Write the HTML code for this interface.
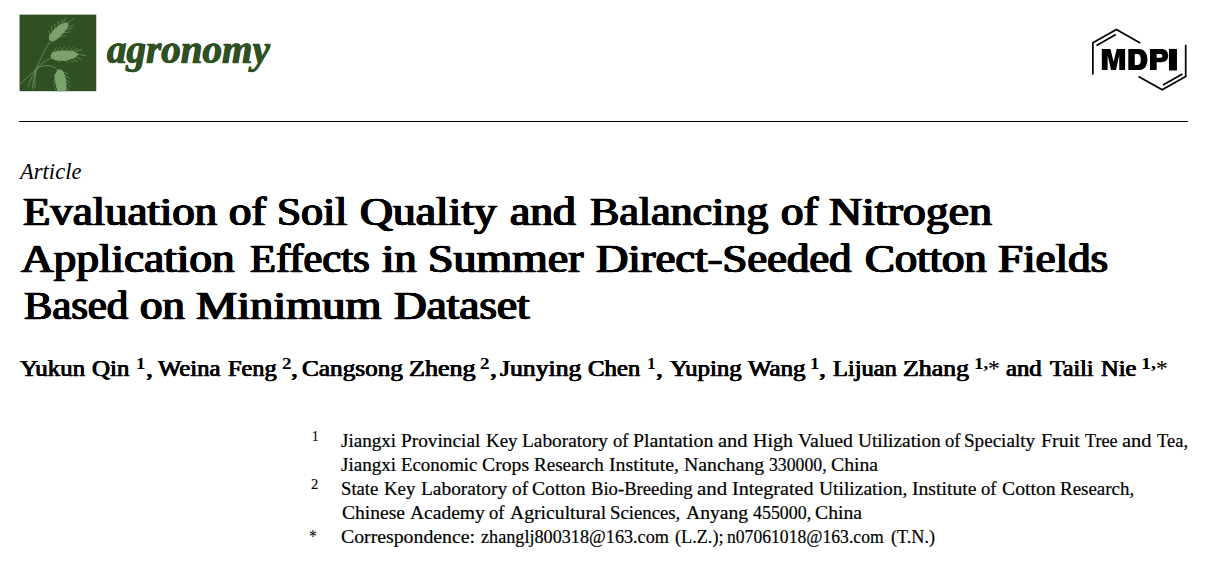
<!DOCTYPE html>
<html><head><meta charset="utf-8"><title>Agronomy Article</title>
<style>
html,body{margin:0;padding:0;background:#fff;}
body{width:1211px;height:562px;position:relative;overflow:hidden;font-family:"Liberation Serif",serif;color:#000;}
.l{position:absolute;white-space:nowrap;transform-origin:0 0;line-height:1;}
#rule{position:absolute;left:19px;top:120.6px;width:1169px;height:1.3px;background:#000;}
svg{position:absolute;overflow:visible;}
</style></head><body>
<svg id="sq" style="left:15px;top:10px;overflow:hidden" width="90" height="90" viewBox="0 0 90 90">
<defs><clipPath id="cq"><rect x="4.55" y="4.6" width="76.7" height="76.6"/></clipPath></defs>
<rect x="4.55" y="4.6" width="76.7" height="76.6" fill="#2f5023"/>
<g clip-path="url(#cq)"><g transform="scale(0.15302)" fill="#7ba36e" stroke="#7ba36e" stroke-linecap="round" stroke-linejoin="round">
<g stroke-width="4.4" fill="none">
<path d="M232 200 C200 250 165 320 142 378 C128 420 118 470 112 520"/>
<path d="M238 312 C200 330 165 355 140 385 C105 420 70 450 40 478"/>
<path d="M280 394 C255 362 205 355 160 372 C130 390 100 450 86 500"/>
<path d="M140 385 C130 420 128 470 130 510"/>
</g>
<g stroke-width="7">
<path d="M224 190 L227 168 L256 131 L295 99 L334 84 L347 92 L337 119 L310 153 L276 187 L246 204 Z"/>
<path d="M235 300 L247 278 L303 268 L375 270 L412 289 L387 311 L331 329 L269 326 L242 316 Z"/>
<path d="M282 391 L307 395 L324 429 L332 473 L333 535 L282 535 L267 473 L260 429 Z"/>
</g>
<g stroke-width="4.6" fill="none" opacity="0.85">
<path d="M227 168 L221 136 M244 148 L239 107 M261 129 L261 90 M281 112 L283 75 M300 95 L310 63 M315 85 L335 48 M334 90 L383 56 M339 116 L383 99 M330 129 L373 119 M315 148 L359 143 M295 173 L327 167"/>
<path d="M253 275 L269 247 M275 270 L295 242 M300 267 L325 239 M328 267 L353 242 M353 267 L381 245 M375 270 L409 253 M392 275 L437 258 M409 289 L462 298 M398 306 L434 325 M375 317 L409 337 M353 323 L384 342 M325 328 L348 342 M297 328 L286 342"/>
<path d="M308 404 L345 415 M322 426 L356 445 M328 451 L361 476 M331 473 L364 504 M331 501 L353 523 M264 445 L252 468 M267 468 L254 493 M272 496 L263 521"/>
</g>
</g></g>
</svg>

<svg id="mdpi" style="left:1085px;top:20px" width="110" height="80" viewBox="1085 20 110 80">
<g fill="none" stroke="#000" stroke-width="1.7" stroke-linecap="butt" stroke-linejoin="miter">
<path d="M1092.9 74.4 V42.8 L1116.4 29.5 L1140.2 43"/>
<path d="M1096.5 45.6 L1115.8 34.6"/>
<path d="M1185.7 44.7 V76.6 L1162.2 89.8 L1138.5 76.4"/>
<path d="M1163 85 L1182.4 74"/>
</g>
<g transform="translate(1095,40) scale(0.074316)" fill="#000" fill-rule="evenodd">
<path d="M92 405 V120 H208 L250 292 L292 120 H405 V405 H326 V205 L282 405 H216 L170 205 V405 Z"/>
<path d="M448 120 H590 C665 120 705 180 705 262 C705 345 665 405 590 405 H448 Z M535 190 V335 H575 C602 335 616 305 616 262 C616 220 602 190 575 190 Z"/>
<path d="M740 120 H890 C950 120 985 155 985 210 C985 265 950 300 890 300 H830 V405 H740 Z M830 188 V240 H875 C896 240 906 230 906 214 C906 198 896 188 875 188 Z"/>
<path d="M995 120 H1103 V410 H995 Z"/>
</g>
</svg>

<div id="rule"></div>
<div class="l" style="left:22.60px;top:191.71px;font-size:40.4px;transform:scaleX(1.1094);-webkit-text-stroke:0.4px #000;text-shadow:0.8px 0 0 #000,-0.8px 0 0 #000,0.4px 0 0 #000,-0.4px 0 0 #000;">Evaluation</div>
<div class="l" style="left:228.50px;top:191.71px;font-size:40.4px;transform:scaleX(1.1053);-webkit-text-stroke:0.4px #000;text-shadow:0.8px 0 0 #000,-0.8px 0 0 #000,0.4px 0 0 #000,-0.4px 0 0 #000;">of</div>
<div class="l" style="left:276.52px;top:191.71px;font-size:40.4px;transform:scaleX(1.0789);-webkit-text-stroke:0.4px #000;text-shadow:0.8px 0 0 #000,-0.8px 0 0 #000,0.4px 0 0 #000,-0.4px 0 0 #000;">Soil</div>
<div class="l" style="left:360.40px;top:191.71px;font-size:40.4px;transform:scaleX(1.1289);-webkit-text-stroke:0.4px #000;text-shadow:0.8px 0 0 #000,-0.8px 0 0 #000,0.4px 0 0 #000,-0.4px 0 0 #000;">Quality</div>
<div class="l" style="left:510.40px;top:191.71px;font-size:40.4px;transform:scaleX(1.1282);-webkit-text-stroke:0.4px #000;text-shadow:0.8px 0 0 #000,-0.8px 0 0 #000,0.4px 0 0 #000,-0.4px 0 0 #000;">and</div>
<div class="l" style="left:590.00px;top:191.71px;font-size:40.4px;transform:scaleX(1.0890);-webkit-text-stroke:0.4px #000;text-shadow:0.8px 0 0 #000,-0.8px 0 0 #000,0.4px 0 0 #000,-0.4px 0 0 #000;">Balancing</div>
<div class="l" style="left:781.00px;top:191.71px;font-size:40.4px;transform:scaleX(1.1081);-webkit-text-stroke:0.4px #000;text-shadow:0.8px 0 0 #000,-0.8px 0 0 #000,0.4px 0 0 #000,-0.4px 0 0 #000;">of</div>
<div class="l" style="left:829.10px;top:191.71px;font-size:40.4px;transform:scaleX(1.1352);-webkit-text-stroke:0.4px #000;text-shadow:0.8px 0 0 #000,-0.8px 0 0 #000,0.4px 0 0 #000,-0.4px 0 0 #000;">Nitrogen</div>
<div class="l" style="left:20.72px;top:238.60px;font-size:40.4px;transform:scaleX(1.1200);-webkit-text-stroke:0.4px #000;text-shadow:0.8px 0 0 #000,-0.8px 0 0 #000,0.4px 0 0 #000,-0.4px 0 0 #000;">Application</div>
<div class="l" style="left:249.80px;top:238.60px;font-size:40.4px;transform:scaleX(1.0525);-webkit-text-stroke:0.4px #000;text-shadow:0.8px 0 0 #000,-0.8px 0 0 #000,0.4px 0 0 #000,-0.4px 0 0 #000;">Effects</div>
<div class="l" style="left:382.20px;top:238.60px;font-size:40.4px;transform:scaleX(1.1017);-webkit-text-stroke:0.4px #000;text-shadow:0.8px 0 0 #000,-0.8px 0 0 #000,0.4px 0 0 #000,-0.4px 0 0 #000;">in</div>
<div class="l" style="left:427.66px;top:238.60px;font-size:40.4px;transform:scaleX(1.1359);-webkit-text-stroke:0.4px #000;text-shadow:0.8px 0 0 #000,-0.8px 0 0 #000,0.4px 0 0 #000,-0.4px 0 0 #000;">Summer</div>
<div class="l" style="left:595.70px;top:238.60px;font-size:40.4px;transform:scaleX(1.1061);-webkit-text-stroke:0.4px #000;text-shadow:0.8px 0 0 #000,-0.8px 0 0 #000,0.4px 0 0 #000,-0.4px 0 0 #000;">Direct-Seeded</div>
<div class="l" style="left:865.00px;top:238.60px;font-size:40.4px;transform:scaleX(1.1068);-webkit-text-stroke:0.4px #000;text-shadow:0.8px 0 0 #000,-0.8px 0 0 #000,0.4px 0 0 #000,-0.4px 0 0 #000;">Cotton</div>
<div class="l" style="left:998.40px;top:238.60px;font-size:40.4px;transform:scaleX(1.1148);-webkit-text-stroke:0.4px #000;text-shadow:0.8px 0 0 #000,-0.8px 0 0 #000,0.4px 0 0 #000,-0.4px 0 0 #000;">Fields</div>
<div class="l" style="left:23.60px;top:285.51px;font-size:40.4px;transform:scaleX(1.0551);-webkit-text-stroke:0.4px #000;text-shadow:0.8px 0 0 #000,-0.8px 0 0 #000,0.4px 0 0 #000,-0.4px 0 0 #000;">Based</div>
<div class="l" style="left:140.40px;top:285.51px;font-size:40.4px;transform:scaleX(1.1118);-webkit-text-stroke:0.4px #000;text-shadow:0.8px 0 0 #000,-0.8px 0 0 #000,0.4px 0 0 #000,-0.4px 0 0 #000;">on</div>
<div class="l" style="left:196.30px;top:285.51px;font-size:40.4px;transform:scaleX(1.1482);-webkit-text-stroke:0.4px #000;text-shadow:0.8px 0 0 #000,-0.8px 0 0 #000,0.4px 0 0 #000,-0.4px 0 0 #000;">Minimum</div>
<div class="l" style="left:393.90px;top:285.51px;font-size:40.4px;transform:scaleX(1.1199);-webkit-text-stroke:0.4px #000;text-shadow:0.8px 0 0 #000,-0.8px 0 0 #000,0.4px 0 0 #000,-0.4px 0 0 #000;">Dataset</div>
<div class="l" style="left:19.67px;top:357.70px;font-size:22.8px;transform:scaleX(1.0935);-webkit-text-stroke:0.25px #000;text-shadow:0.4px 0 0 #000,-0.4px 0 0 #000;">Yukun</div>
<div class="l" style="left:92.37px;top:357.70px;font-size:22.8px;transform:scaleX(1.0935);-webkit-text-stroke:0.25px #000;text-shadow:0.4px 0 0 #000,-0.4px 0 0 #000;">Qin</div>
<div class="l" style="left:136.47px;top:355.71px;font-size:16.5px;transform:scaleX(1.1286);font-weight:bold;">1</div>
<div class="l" style="left:145.63px;top:357.70px;font-size:22.8px;transform:scaleX(1.2066);-webkit-text-stroke:0.25px #000;text-shadow:0.4px 0 0 #000,-0.4px 0 0 #000;">,</div>
<div class="l" style="left:157.77px;top:357.70px;font-size:22.8px;transform:scaleX(1.0838);-webkit-text-stroke:0.25px #000;text-shadow:0.4px 0 0 #000,-0.4px 0 0 #000;">Weina</div>
<div class="l" style="left:227.86px;top:357.70px;font-size:22.8px;transform:scaleX(1.0661);-webkit-text-stroke:0.25px #000;text-shadow:0.4px 0 0 #000,-0.4px 0 0 #000;">Feng</div>
<div class="l" style="left:281.80px;top:355.71px;font-size:16.5px;transform:scaleX(1.1625);font-weight:bold;">2</div>
<div class="l" style="left:291.23px;top:357.70px;font-size:22.8px;transform:scaleX(1.2066);-webkit-text-stroke:0.25px #000;text-shadow:0.4px 0 0 #000,-0.4px 0 0 #000;">,</div>
<div class="l" style="left:302.38px;top:357.70px;font-size:22.8px;transform:scaleX(1.1074);-webkit-text-stroke:0.25px #000;text-shadow:0.4px 0 0 #000,-0.4px 0 0 #000;">Cangsong</div>
<div class="l" style="left:408.56px;top:357.70px;font-size:22.8px;transform:scaleX(1.1435);-webkit-text-stroke:0.25px #000;text-shadow:0.4px 0 0 #000,-0.4px 0 0 #000;">Zheng</div>
<div class="l" style="left:480.20px;top:355.71px;font-size:16.5px;transform:scaleX(1.1625);font-weight:bold;">2</div>
<div class="l" style="left:489.54px;top:357.70px;font-size:22.8px;transform:scaleX(1.2231);-webkit-text-stroke:0.25px #000;text-shadow:0.4px 0 0 #000,-0.4px 0 0 #000;">,</div>
<div class="l" style="left:500.39px;top:357.70px;font-size:22.8px;transform:scaleX(1.1270);-webkit-text-stroke:0.25px #000;text-shadow:0.4px 0 0 #000,-0.4px 0 0 #000;">Junying</div>
<div class="l" style="left:588.37px;top:357.70px;font-size:22.8px;transform:scaleX(1.0870);-webkit-text-stroke:0.25px #000;text-shadow:0.4px 0 0 #000,-0.4px 0 0 #000;">Chen</div>
<div class="l" style="left:647.34px;top:355.71px;font-size:16.5px;transform:scaleX(1.0571);font-weight:bold;">1</div>
<div class="l" style="left:656.13px;top:357.70px;font-size:22.8px;transform:scaleX(1.2066);-webkit-text-stroke:0.25px #000;text-shadow:0.4px 0 0 #000,-0.4px 0 0 #000;">,</div>
<div class="l" style="left:670.27px;top:357.70px;font-size:22.8px;transform:scaleX(1.0885);-webkit-text-stroke:0.25px #000;text-shadow:0.4px 0 0 #000,-0.4px 0 0 #000;">Yuping</div>
<div class="l" style="left:748.17px;top:357.70px;font-size:22.8px;transform:scaleX(1.0928);-webkit-text-stroke:0.25px #000;text-shadow:0.4px 0 0 #000,-0.4px 0 0 #000;">Wang</div>
<div class="l" style="left:809.76px;top:355.71px;font-size:16.5px;transform:scaleX(1.1429);font-weight:bold;">1</div>
<div class="l" style="left:819.33px;top:357.70px;font-size:22.8px;transform:scaleX(1.2066);-webkit-text-stroke:0.25px #000;text-shadow:0.4px 0 0 #000,-0.4px 0 0 #000;">,</div>
<div class="l" style="left:833.46px;top:357.70px;font-size:22.8px;transform:scaleX(1.0726);-webkit-text-stroke:0.25px #000;text-shadow:0.4px 0 0 #000,-0.4px 0 0 #000;">Lijuan</div>
<div class="l" style="left:903.46px;top:357.70px;font-size:22.8px;transform:scaleX(1.1332);-webkit-text-stroke:0.25px #000;text-shadow:0.4px 0 0 #000,-0.4px 0 0 #000;">Zhang</div>
<div class="l" style="left:973.94px;top:355.71px;font-size:16.5px;transform:scaleX(1.1644);font-weight:bold;">1,</div>
<div class="l" style="left:988.32px;top:357.70px;font-size:22.8px;transform:scaleX(1.0297);-webkit-text-stroke:0.1px #000;">*</div>
<div class="l" style="left:1006.17px;top:357.70px;font-size:22.8px;transform:scaleX(1.0820);-webkit-text-stroke:0.25px #000;text-shadow:0.4px 0 0 #000,-0.4px 0 0 #000;">and</div>
<div class="l" style="left:1050.15px;top:357.70px;font-size:22.8px;transform:scaleX(1.0482);-webkit-text-stroke:0.25px #000;text-shadow:0.4px 0 0 #000,-0.4px 0 0 #000;">Taili</div>
<div class="l" style="left:1100.96px;top:357.70px;font-size:22.8px;transform:scaleX(1.0754);-webkit-text-stroke:0.25px #000;text-shadow:0.4px 0 0 #000,-0.4px 0 0 #000;">Nie</div>
<div class="l" style="left:1141.48px;top:355.71px;font-size:16.5px;transform:scaleX(1.2178);font-weight:bold;">1,</div>
<div class="l" style="left:1156.33px;top:357.70px;font-size:22.8px;transform:scaleX(1.0198);-webkit-text-stroke:0.1px #000;">*</div>
<div class="l" style="left:20.06px;top:159.91px;font-size:23px;transform:scaleX(0.9817);font-style:italic;">Article</div>
<div class="l" style="left:106.62px;top:28.71px;font-size:41px;transform:scaleX(0.9529);-webkit-text-stroke:0.3px #2f5023;text-shadow:0.5px 0 0 #2f5023,-0.5px 0 0 #2f5023;font-weight:bold;font-style:italic;color:#2f5023;">agronomy</div>
<div class="l" style="left:341.40px;top:432.20px;font-size:18.5px;transform:scaleX(1.0316);-webkit-text-stroke:0.2px #000;">Jiangxi</div>
<div class="l" style="left:401.30px;top:432.20px;font-size:18.5px;transform:scaleX(1.0438);-webkit-text-stroke:0.2px #000;">Provincial</div>
<div class="l" style="left:485.50px;top:432.20px;font-size:18.5px;transform:scaleX(1.0241);-webkit-text-stroke:0.2px #000;">Key</div>
<div class="l" style="left:521.80px;top:432.20px;font-size:18.5px;transform:scaleX(1.0448);-webkit-text-stroke:0.2px #000;">Laboratory</div>
<div class="l" style="left:612.50px;top:432.20px;font-size:18.5px;transform:scaleX(1.0032);-webkit-text-stroke:0.2px #000;">of</div>
<div class="l" style="left:632.61px;top:432.20px;font-size:18.5px;transform:scaleX(1.0722);-webkit-text-stroke:0.2px #000;">Plantation</div>
<div class="l" style="left:718.01px;top:432.20px;font-size:18.5px;transform:scaleX(1.1073);-webkit-text-stroke:0.2px #000;">and</div>
<div class="l" style="left:752.71px;top:432.20px;font-size:18.5px;transform:scaleX(1.0811);-webkit-text-stroke:0.2px #000;">High</div>
<div class="l" style="left:797.71px;top:432.20px;font-size:18.5px;transform:scaleX(1.0697);-webkit-text-stroke:0.2px #000;">Valued</div>
<div class="l" style="left:857.60px;top:432.20px;font-size:18.5px;transform:scaleX(1.0460);-webkit-text-stroke:0.2px #000;">Utilization</div>
<div class="l" style="left:945.20px;top:432.20px;font-size:18.5px;transform:scaleX(1.0082);-webkit-text-stroke:0.2px #000;">of</div>
<div class="l" style="left:964.37px;top:432.20px;font-size:18.5px;transform:scaleX(1.0318);-webkit-text-stroke:0.2px #000;">Specialty</div>
<div class="l" style="left:1041.21px;top:432.20px;font-size:18.5px;transform:scaleX(1.0787);-webkit-text-stroke:0.2px #000;">Fruit</div>
<div class="l" style="left:1085.00px;top:432.20px;font-size:18.5px;transform:scaleX(0.9800);-webkit-text-stroke:0.2px #000;">Tree</div>
<div class="l" style="left:1122.11px;top:432.20px;font-size:18.5px;transform:scaleX(1.1042);-webkit-text-stroke:0.2px #000;">and</div>
<div class="l" style="left:1156.70px;top:432.20px;font-size:18.5px;transform:scaleX(0.9990);-webkit-text-stroke:0.2px #000;">Tea,</div>
<div class="l" style="left:341.40px;top:456.20px;font-size:18.5px;transform:scaleX(1.0316);-webkit-text-stroke:0.2px #000;">Jiangxi</div>
<div class="l" style="left:401.30px;top:456.20px;font-size:18.5px;transform:scaleX(1.0185);-webkit-text-stroke:0.2px #000;">Economic</div>
<div class="l" style="left:482.41px;top:456.20px;font-size:18.5px;transform:scaleX(1.0650);-webkit-text-stroke:0.2px #000;">Crops</div>
<div class="l" style="left:534.40px;top:456.20px;font-size:18.5px;transform:scaleX(1.0301);-webkit-text-stroke:0.2px #000;">Research</div>
<div class="l" style="left:609.01px;top:456.20px;font-size:18.5px;transform:scaleX(1.0718);-webkit-text-stroke:0.2px #000;">Institute,</div>
<div class="l" style="left:683.91px;top:456.20px;font-size:18.5px;transform:scaleX(1.0701);-webkit-text-stroke:0.2px #000;">Nanchang</div>
<div class="l" style="left:769.10px;top:456.20px;font-size:18.5px;transform:scaleX(0.9575);-webkit-text-stroke:0.2px #000;">330000,</div>
<div class="l" style="left:831.11px;top:456.20px;font-size:18.5px;transform:scaleX(1.0661);-webkit-text-stroke:0.2px #000;">China</div>
<div class="l" style="left:341.39px;top:480.20px;font-size:18.5px;transform:scaleX(1.0092);-webkit-text-stroke:0.2px #000;">State</div>
<div class="l" style="left:384.40px;top:480.20px;font-size:18.5px;transform:scaleX(1.0184);-webkit-text-stroke:0.2px #000;">Key</div>
<div class="l" style="left:420.50px;top:480.20px;font-size:18.5px;transform:scaleX(1.0483);-webkit-text-stroke:0.2px #000;">Laboratory</div>
<div class="l" style="left:511.50px;top:480.20px;font-size:18.5px;transform:scaleX(1.0431);-webkit-text-stroke:0.2px #000;">of</div>
<div class="l" style="left:532.41px;top:480.20px;font-size:18.5px;transform:scaleX(1.0619);-webkit-text-stroke:0.2px #000;">Cotton</div>
<div class="l" style="left:590.80px;top:480.20px;font-size:18.5px;transform:scaleX(1.0083);-webkit-text-stroke:0.2px #000;">Bio-Breeding</div>
<div class="l" style="left:697.01px;top:480.20px;font-size:18.5px;transform:scaleX(1.1297);-webkit-text-stroke:0.2px #000;">and</div>
<div class="l" style="left:732.41px;top:480.20px;font-size:18.5px;transform:scaleX(1.0866);-webkit-text-stroke:0.2px #000;">Integrated</div>
<div class="l" style="left:818.91px;top:480.20px;font-size:18.5px;transform:scaleX(1.0546);-webkit-text-stroke:0.2px #000;">Utilization,</div>
<div class="l" style="left:912.11px;top:480.20px;font-size:18.5px;transform:scaleX(1.0620);-webkit-text-stroke:0.2px #000;">Institute</div>
<div class="l" style="left:981.40px;top:480.20px;font-size:18.5px;transform:scaleX(1.0082);-webkit-text-stroke:0.2px #000;">of</div>
<div class="l" style="left:1001.61px;top:480.20px;font-size:18.5px;transform:scaleX(1.0656);-webkit-text-stroke:0.2px #000;">Cotton</div>
<div class="l" style="left:1060.20px;top:480.20px;font-size:18.5px;transform:scaleX(1.0237);-webkit-text-stroke:0.2px #000;">Research,</div>
<div class="l" style="left:341.81px;top:504.20px;font-size:18.5px;transform:scaleX(1.0572);-webkit-text-stroke:0.2px #000;">Chinese</div>
<div class="l" style="left:409.71px;top:504.20px;font-size:18.5px;transform:scaleX(1.0542);-webkit-text-stroke:0.2px #000;">Academy</div>
<div class="l" style="left:489.30px;top:504.20px;font-size:18.5px;transform:scaleX(1.0082);-webkit-text-stroke:0.2px #000;">of</div>
<div class="l" style="left:509.51px;top:504.20px;font-size:18.5px;transform:scaleX(1.0638);-webkit-text-stroke:0.2px #000;">Agricultural</div>
<div class="l" style="left:609.59px;top:504.20px;font-size:18.5px;transform:scaleX(1.0139);-webkit-text-stroke:0.2px #000;">Sciences,</div>
<div class="l" style="left:685.61px;top:504.20px;font-size:18.5px;transform:scaleX(1.0618);-webkit-text-stroke:0.2px #000;">Anyang</div>
<div class="l" style="left:752.70px;top:504.20px;font-size:18.5px;transform:scaleX(0.9683);-webkit-text-stroke:0.2px #000;">455000,</div>
<div class="l" style="left:815.41px;top:504.20px;font-size:18.5px;transform:scaleX(1.0638);-webkit-text-stroke:0.2px #000;">China</div>
<div class="l" style="left:341.11px;top:528.20px;font-size:18.5px;transform:scaleX(1.0691);-webkit-text-stroke:0.2px #000;">Correspondence:</div>
<div class="l" style="left:480.50px;top:528.20px;font-size:18.5px;transform:scaleX(0.9827);-webkit-text-stroke:0.2px #000;">zhanglj800318@163.com</div>
<div class="l" style="left:674.80px;top:528.20px;font-size:18.5px;transform:scaleX(0.9840);-webkit-text-stroke:0.2px #000;">(L.Z.);</div>
<div class="l" style="left:726.80px;top:528.20px;font-size:18.5px;transform:scaleX(0.9521);-webkit-text-stroke:0.2px #000;">n07061018@163.com</div>
<div class="l" style="left:891.10px;top:528.20px;font-size:18.5px;transform:scaleX(0.9822);-webkit-text-stroke:0.2px #000;">(T.N.)</div>
<div class="l" style="left:311.66px;top:429.30px;font-size:14.5px;transform:scaleX(0.9106);-webkit-text-stroke:0.15px #000;">1</div>
<div class="l" style="left:311.38px;top:477.30px;font-size:14.5px;transform:scaleX(1.0070);-webkit-text-stroke:0.15px #000;">2</div>
<div class="l" style="left:308.50px;top:527.81px;font-size:18.5px;transform:scaleX(0.8333);">*</div>
</body></html>
